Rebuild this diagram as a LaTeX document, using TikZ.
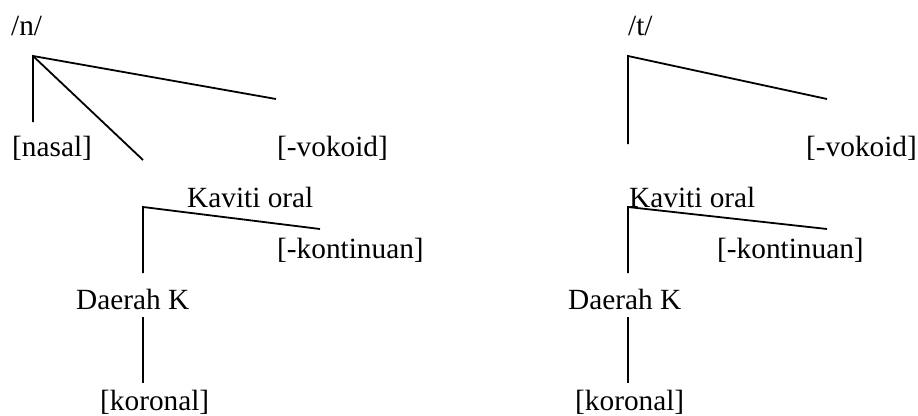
\documentclass[tikz,border=0pt]{standalone}
\usepackage{fontspec}
\setmainfont{Liberation Serif}
\usepackage{tikz}

\begin{document}
\begin{tikzpicture}[x=1pt,y=-1pt,
  feat/.style={anchor=base west,inner sep=0pt,font=\fontsize{29.3}{32}\selectfont},
  branch/.style={line width=1.8pt}]
\useasboundingbox (0,0) rectangle (918,415);
% left tree: /n/
\node[feat] (n) at (11,35) {/n/};
\coordinate (nTop) at (33,56);
\coordinate (nNasal) at (33,122);
\coordinate (nOral) at (143,160);
\coordinate (nVok) at (276,99);
\node[feat] (nasal) at (12,156) {[nasal]};
\node[feat] (vokN) at (277,156) {[-vokoid]};
\node[feat] (kavN) at (187,207) {Kaviti oral};
\coordinate (kTopN) at (143,207);
\coordinate (kDownN) at (143,273);
\coordinate (kKonN) at (320,229);
\node[feat] (konN) at (277,258) {[-kontinuan]};
\node[feat] (daeN) at (76,309) {Daerah K};
\coordinate (dTopN) at (143,317);
\coordinate (dDownN) at (143,383);
\node[feat] (korN) at (100,410) {[koronal]};
\draw[branch] (nNasal) -- (nTop) -- (nVok);
\draw[branch] (nTop) -- (nOral);
\draw[branch] (kDownN) -- (kTopN) -- (kKonN);
\draw[branch] (dTopN) -- (dDownN);
% right tree: /t/
\node[feat] (t) at (628,35) {/t/};
\coordinate (tTop) at (628,56);
\coordinate (tOral) at (628,144);
\coordinate (tVok) at (827,99);
\node[feat] (vokT) at (806,156) {[-vokoid]};
\node[feat] (kavT) at (629,207) {Kaviti oral};
\coordinate (kTopT) at (628,207);
\coordinate (kDownT) at (628,273);
\coordinate (kKonT) at (827,229);
\node[feat] (konT) at (717,258) {[-kontinuan]};
\node[feat] (daeT) at (568,309) {Daerah K};
\coordinate (dTopT) at (628,317);
\coordinate (dDownT) at (628,383);
\node[feat] (korT) at (575,410) {[koronal]};
\draw[branch] (tOral) -- (tTop) -- (tVok);
\draw[branch] (kDownT) -- (kTopT) -- (kKonT);
\draw[branch] (dTopT) -- (dDownT);
\end{tikzpicture}
\end{document}
